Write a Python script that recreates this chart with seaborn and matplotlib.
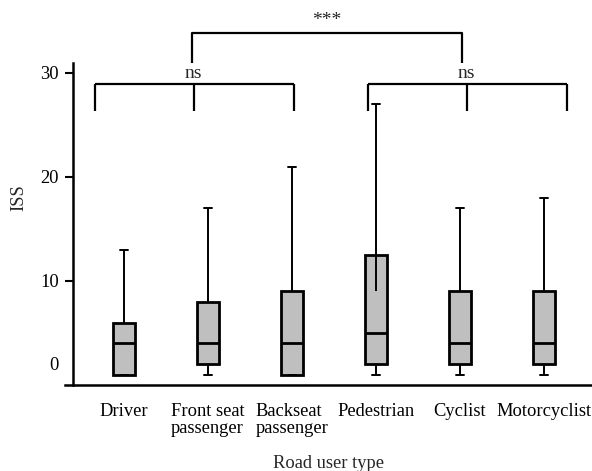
import numpy as np
import pandas as pd
import seaborn as sns
import matplotlib.pyplot as plt

# five-number summaries (min, q1, median, q3, max)
CATEGORIES = ["Driver", "Front seat\npassenger", "Backseat\npassenger",
              "Pedestrian", "Cyclist", "Motorcyclist"]
ISS_MIN = [1, 1, 1, 1, 1, 1]
ISS_Q1 = [1, 2, 1, 2, 2, 2]
ISS_MED = [4, 4, 4, 5, 4, 4]
ISS_Q3 = [6, 8, 9, 12.5, 9, 9]
ISS_MAX = [13, 17, 21, 27, 17, 18]

# stray whisker stub inside the pedestrian box
PED_WHISKER_BASE = 9

# significance brackets: x positions of the legs
NS_LEFT = [-0.345, 0.83, 2.02]
NS_RIGHT = [2.9, 4.08, 5.27]
TOP_BRACKET = [0.81, 4.02]
YTICKS = [2.1, 10, 20, 30]
YTICK_LABELS = ["0", "10", "20", "30"]


def main():
    rows = []
    for cat, a, b, c, d, e in zip(CATEGORIES, ISS_MIN, ISS_Q1, ISS_MED, ISS_Q3, ISS_MAX):
        for v in [a, b, c, d, e]:
            rows.append({"user": cat, "ISS": v})
    df = pd.DataFrame(rows)

    sns.set_style("ticks")
    plt.rcParams["font.family"] = ["Liberation Serif", "DejaVu Serif"]
    fig = plt.figure(figsize=(5.92, 4.71), dpi=100)
    ax = fig.add_axes([0.1098, 0.1826, 0.890, 0.795])

    sns.boxplot(data=df, x="user", y="ISS", order=CATEGORIES, whis=(0, 100),
                color="#bfbfbf", linecolor="black", linewidth=1.4, width=0.26,
                showfliers=False, ax=ax, capwidths=0.1,
                boxprops={"linewidth": 2},
                medianprops={"linewidth": 2})

    ax.vlines(3, PED_WHISKER_BASE, ISS_Q3[3], color="black", lw=1.4, zorder=3)

    ax.set_xlim(-0.70, 5.57)
    ax.set_ylim(0, 36)
    ax.spines["left"].set_position(("data", -0.61))
    ax.spines["left"].set_bounds(0, 31)
    ax.spines["top"].set_visible(False)
    ax.spines["right"].set_visible(False)
    for s in ["left", "bottom"]:
        ax.spines[s].set_linewidth(1.8)
        ax.spines[s].set_color("black")

    ax.set_yticks(YTICKS)
    ax.set_yticklabels(YTICK_LABELS)
    ax.yaxis.get_major_ticks()[0].tick1line.set_visible(False)
    ax.tick_params(axis="y", length=6, width=1.5, labelsize=13.3, pad=4, colors="black")
    ax.tick_params(axis="x", length=0, labelsize=13.3, pad=13, colors="black")
    for lbl in ax.get_xticklabels():
        lbl.set_multialignment("left")
        lbl.set_linespacing(1.0)

    ax.set_xlabel("Road user type", fontsize=13.3, labelpad=13)
    ax.set_ylabel("ISS", fontsize=13.3, labelpad=9)

    # brackets
    kw = dict(color="black", lw=1.6, clip_on=False, solid_capstyle="butt")
    for legs in [NS_LEFT, NS_RIGHT]:
        ax.plot([legs[0], legs[-1]], [28.9, 28.9], **kw)
        for x in legs:
            ax.plot([x, x], [28.9, 26.3], **kw)
        ax.text(legs[1], 29.1, "ns", ha="center", va="bottom", fontsize=14)
    ax.plot([TOP_BRACKET[0], TOP_BRACKET[0], TOP_BRACKET[1], TOP_BRACKET[1]],
            [31.0, 33.8, 33.8, 31.0], **kw)
    ax.text(np.mean(TOP_BRACKET), 34.2, "***", ha="center", va="bottom", fontsize=14)

    fig.savefig("out.png", dpi=100)


if __name__ == "__main__":
    main()
